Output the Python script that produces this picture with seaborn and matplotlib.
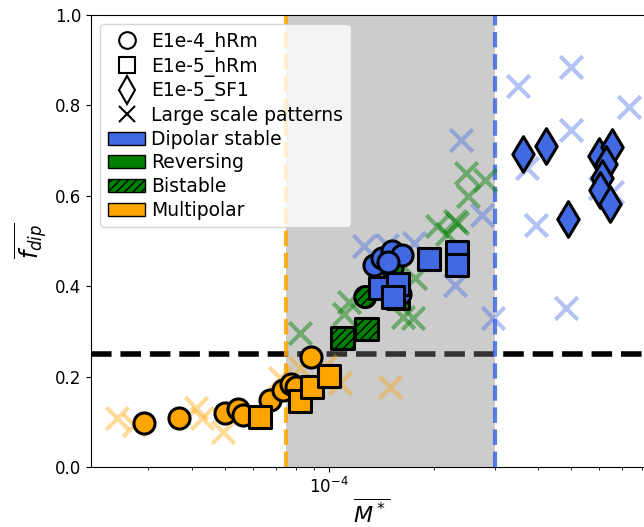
import numpy as np
import pandas as pd
import matplotlib
matplotlib.use("Agg")
import matplotlib.pyplot as plt
from matplotlib.lines import Line2D
from matplotlib.patches import Patch
import seaborn as sns

# ---- simulation results: time-averaged magnetic moment vs dipolarity ----
# E1e-4_hRm runs (circles)
c_multi_x = [2.92e-5, 3.67e-5, 5.01e-5, 5.43e-5, 5.65e-5, 6.76e-5, 7.37e-5, 7.77e-5, 8.03e-5, 8.87e-5]
c_multi_y = [0.097, 0.108, 0.119, 0.128, 0.115, 0.148, 0.170, 0.184, 0.177, 0.243]
c_bist_x = [1.27e-4]
c_bist_y = [0.376]
c_rev_x = [1.52e-4]
c_rev_y = [0.440]
c_dip_x = [1.349e-4, 1.422e-4, 1.520e-4, 1.624e-4, 1.480e-4, 1.603e-4]
c_dip_y = [0.447, 0.462, 0.478, 0.469, 0.454, 0.383]

# E1e-5_hRm runs (squares)
s_multi_x = [6.32e-5, 8.25e-5, 8.93e-5, 1.00e-4]
s_multi_y = [0.111, 0.146, 0.177, 0.201]
s_bist_x = [1.09e-4, 1.279e-4]
s_bist_y = [0.285, 0.305]
s_rev_x = [1.58e-4]
s_rev_y = [0.374]
s_dip_x = [1.944e-4, 2.341e-4, 2.341e-4, 1.404e-4, 1.582e-4, 1.530e-4]
s_dip_y = [0.460, 0.476, 0.447, 0.396, 0.405, 0.376]

# E1e-5_SF1 runs (diamonds)
d_dip_x = [3.63e-4, 4.23e-4, 4.894e-4, 6.015e-4, 6.557e-4, 6.301e-4, 6.137e-4, 6.055e-4, 6.471e-4]
d_dip_y = [0.692, 0.710, 0.549, 0.688, 0.708, 0.670, 0.639, 0.613, 0.582]

# Large scale pattern runs (crosses)
x_multi_x = [2.44e-5, 2.72e-5, 4.11e-5, 4.30e-5, 4.94e-5, 7.22e-5, 8.25e-5, 9.74e-5, 1.076e-4, 1.50e-4]
x_multi_y = [0.108, 0.093, 0.131, 0.108, 0.077, 0.197, 0.219, 0.223, 0.186, 0.177]
x_rev_x = [8.25e-5, 1.142e-4, 1.105e-4, 1.635e-4, 1.747e-4, 1.771e-4, 2.05e-4, 2.19e-4,
           2.31e-4, 2.33e-4, 2.486e-4, 2.519e-4, 2.82e-4]
x_rev_y = [0.296, 0.365, 0.338, 0.332, 0.330, 0.418, 0.533, 0.515, 0.544, 0.540, 0.650, 0.600, 0.635]
x_dip_x = [2.404e-4, 2.764e-4, 2.31e-4, 2.973e-4, 1.262e-4, 1.47e-4, 1.759e-4, 3.512e-4,
           4.993e-4, 7.34e-4, 4.993e-4, 3.727e-4, 3.957e-4, 4.83e-4, 6.055e-4, 6.557e-4]
x_dip_y = [0.723, 0.558, 0.403, 0.330, 0.489, 0.491, 0.496, 0.843, 0.885, 0.796, 0.746,
           0.662, 0.535, 0.352, 0.617, 0.608]

# regime boundaries
m_low, m_high = 7.5e-5, 3.0e-4
f_threshold = 0.25

regime_colors = {"Dipolar stable": "royalblue", "Reversing": "green",
                 "Bistable": "green", "Multipolar": "orange"}

fig = plt.figure(figsize=(6.44, 5.27), dpi=100)
ax = fig.add_axes([91 / 644, 60 / 527, 562 / 644, 452 / 527])

ax.axhline(f_threshold, color="black", ls="--", lw=4, zorder=0.5)
ax.axvspan(m_low, m_high, color="gray", alpha=0.4, lw=0, zorder=0.8)
ax.axvline(m_low, color="orange", ls="--", lw=3, alpha=0.85, zorder=0.9)
ax.axvline(m_high, color="royalblue", ls="--", lw=3, alpha=0.85, zorder=0.9)

# crosses
for xs, ys, reg, a in [(x_multi_x, x_multi_y, "Multipolar", 0.4),
                       (x_rev_x, x_rev_y, "Reversing", 0.45),
                       (x_dip_x, x_dip_y, "Dipolar stable", 0.4)]:
    df = pd.DataFrame({"M": xs, "f": ys})
    sns.scatterplot(data=df, x="M", y="f", ax=ax, marker="x", s=260,
                    color=regime_colors[reg], alpha=a, linewidth=3, zorder=2,
                    legend=False)

# simulation markers
groups = [
    (c_multi_x, c_multi_y, "o", "Multipolar", None),
    (s_multi_x, s_multi_y, "s", "Multipolar", None),
    (c_bist_x, c_bist_y, "o", "Bistable", "////"),
    (s_bist_x, s_bist_y, "s", "Bistable", "////"),
    (c_rev_x, c_rev_y, "o", "Reversing", None),
    (s_rev_x, s_rev_y, "s", "Reversing", None),
    (c_dip_x, c_dip_y, "o", "Dipolar stable", None),
    (s_dip_x, s_dip_y, "s", "Dipolar stable", None),
    (d_dip_x, d_dip_y, "d", "Dipolar stable", None),
]
for xs, ys, mk, reg, hatch in groups:
    df = pd.DataFrame({"M": xs, "f": ys})
    size = {"o": 230, "s": 260, "d": 330}[mk]
    kw = {"hatch": hatch} if hatch else {}
    sns.scatterplot(data=df, x="M", y="f", ax=ax, marker=mk, s=size,
                    color=regime_colors[reg], edgecolor="black", linewidth=2.2,
                    zorder=3, legend=False, **kw)

ax.set_xscale("log")
ax.set_xlim(2.05e-5, 8.6e-4)
ax.set_ylim(0, 1)
ax.set_yticks([0.0, 0.2, 0.4, 0.6, 0.8, 1.0])
ax.tick_params(labelsize=12)
ax.set_xlabel(r"$\overline{M^*}$", fontsize=16, labelpad=1)
ax.set_ylabel(r"$\overline{f_{dip}}$", fontsize=17)

handles = [
    Line2D([], [], marker="o", ls="", mfc="white", mec="black", ms=12, mew=1.5, label="E1e-4_hRm"),
    Line2D([], [], marker="s", ls="", mfc="white", mec="black", ms=12, mew=1.5, label="E1e-5_hRm"),
    Line2D([], [], marker="d", ls="", mfc="white", mec="black", ms=14, mew=1.5, label="E1e-5_SF1"),
    Line2D([], [], marker="x", ls="", color="black", ms=12, mew=1.5, label="Large scale patterns"),
    Patch(facecolor="royalblue", edgecolor="black", label="Dipolar stable"),
    Patch(facecolor="green", edgecolor="black", label="Reversing"),
    Patch(facecolor="green", edgecolor="black", hatch="////", label="Bistable"),
    Patch(facecolor="orange", edgecolor="black", label="Multipolar"),
]
ax.legend(handles=handles, loc="upper left", fontsize=13.5, handlelength=2.0,
          handletextpad=0.3, labelspacing=0.25, borderaxespad=0.5)

fig.savefig("out.png", dpi=100)
